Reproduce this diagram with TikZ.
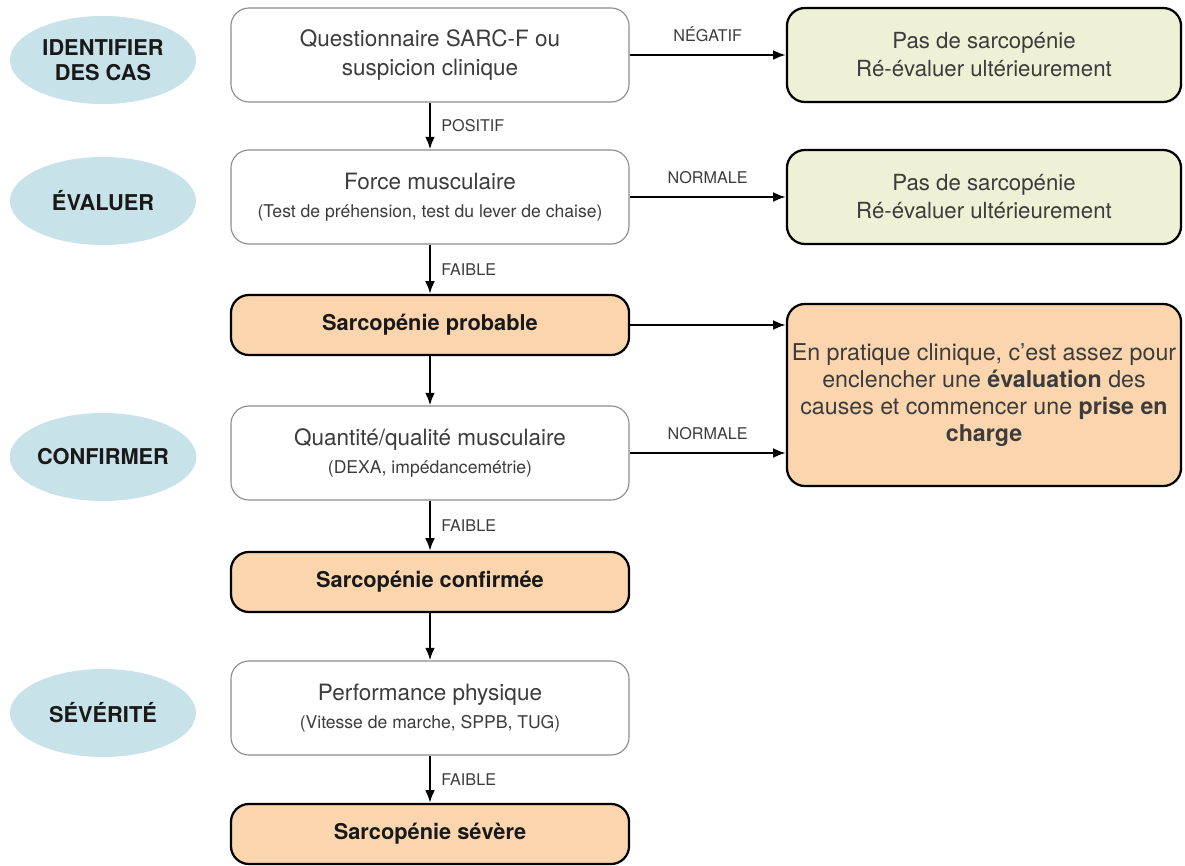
\documentclass[tikz,border=0pt]{standalone}
\usepackage{fontspec}
\setmainfont{TeX Gyre Heros}
\usepackage{tikz}
\usetikzlibrary{arrows,arrows.meta,positioning,shapes.geometric}
\definecolor{phaseblue}{HTML}{C8E2E9}
\definecolor{okgreen}{HTML}{EEF1D6}
\definecolor{alertorange}{HTML}{FAD5AE}
\definecolor{txtgray}{HTML}{3C3C3C}
\newcommand{\precision}[1]{{\fontsize{12.5}{15}\selectfont #1}}

\begin{document}
\begin{tikzpicture}[x=0.025cm, y=-0.025cm,
  phase/.style={ellipse, fill=phaseblue, minimum width=4.65cm, minimum height=2.2cm, inner sep=0pt, align=center, font=\bfseries\fontsize{15.5}{18}\selectfont, text=black!90},
  etape/.style={rectangle, rounded corners=0.45cm, draw=black!45, line width=0.8pt, fill=white, minimum width=9.95cm, minimum height=2.35cm, align=center, text=txtgray, font=\fontsize{16}{20}\selectfont},
  diag/.style={rectangle, rounded corners=0.45cm, draw=black, line width=1.6pt, fill=alertorange, minimum width=9.95cm, minimum height=1.5cm, font=\bfseries\fontsize{15.5}{18}\selectfont, text=black!90},
  sortie/.style={rectangle, rounded corners=0.45cm, draw=black, line width=1.6pt, fill=okgreen, minimum width=9.85cm, minimum height=2.35cm, align=center, text=txtgray, font=\fontsize{15.8}{20}\selectfont},
  rep/.style={font=\fontsize{11.5}{13}\selectfont, text=txtgray}]
  \useasboundingbox (0,0) rectangle (1185,866);

  \node (identifier) [phase] at (103,60) {IDENTIFIER\\DES CAS};
  \node (evaluer) [phase] at (103,201) {ÉVALUER};
  \node (confirmer) [phase] at (103,457) {CONFIRMER};
  \node (severite) [phase] at (103,713) {SÉVÉRITÉ};

  \node (questionnaire) [etape] at (430,55) {Questionnaire SARC-F ou\\suspicion clinique};
  \node (force) [etape] at (430,197) {Force musculaire\\\precision{(Test de préhension, test du lever de chaise)}};
  \node (probable) [diag] at (430,325) {Sarcopénie probable};
  \node (quantite) [etape] at (430,453) {Quantité/qualité musculaire\\\precision{(DEXA, impédancemétrie)}};
  \node (confirmee) [diag] at (430,582) {Sarcopénie confirmée};
  \node (performance) [etape] at (430,708) {Performance physique\\\precision{(Vitesse de marche, SPPB, TUG)}};
  \node (severe) [diag] at (430,834) {Sarcopénie sévère};

  \node (negatif) [sortie] at (984,55) {Pas de sarcopénie\\Ré-évaluer ultérieurement};
  \node (normale) [sortie] at (984,197) {Pas de sarcopénie\\Ré-évaluer ultérieurement};
  \node (pec) [diag, minimum width=9.85cm, minimum height=4.55cm, align=center, text=txtgray, font=\fontsize{16.5}{19}\selectfont] at (984,395)
    {En pratique clinique, c’est assez pour\\enclencher une \textbf{évaluation} des\\causes et commencer une \textbf{prise en}\\\textbf{charge}};

  \path [-{Latex[length=9pt,width=7pt]}, line width=1.6pt]
  (questionnaire) edge node [rep, right=4pt] {POSITIF} (force)
  (force) edge node [rep, right=4pt] {FAIBLE} (probable)
  (probable) edge (quantite)
  (quantite) edge node [rep, right=4pt] {FAIBLE} (confirmee)
  (confirmee) edge (performance)
  (performance) edge node [rep, right=4pt] {FAIBLE} (severe)
  (questionnaire) edge node [rep, above=5pt] {NÉGATIF} (negatif)
  (force) edge node [rep, above=5pt] {NORMALE} (normale)
  (probable.east) edge (probable -| pec.west)
  (quantite.east) edge node [rep, above=5pt] {NORMALE} (quantite -| pec.west);
\end{tikzpicture}
\end{document}
